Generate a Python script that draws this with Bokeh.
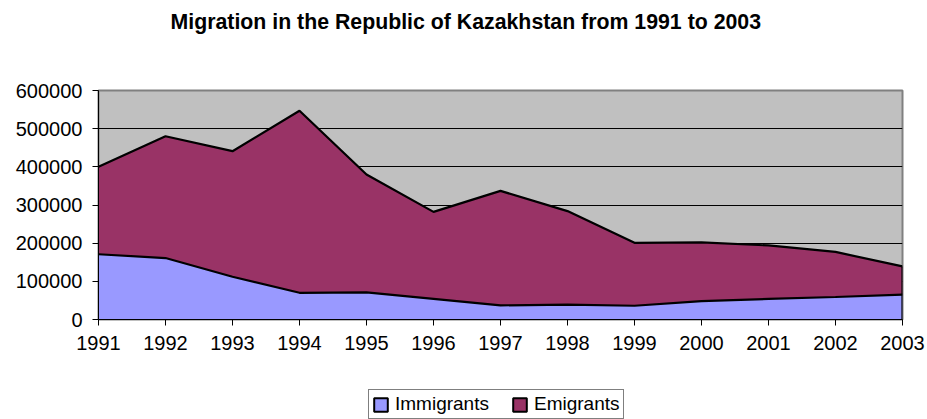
from bokeh.plotting import figure
from bokeh.layouts import column
from bokeh.models import (ColumnDataSource, Range1d, FixedTicker, Legend, LegendItem,
                          Title, BasicTickFormatter)
from bokeh.embed import file_html
from bokeh.resources import INLINE

# ---- data ----
years = [1991, 1992, 1993, 1994, 1995, 1996, 1997, 1998, 1999, 2000, 2001, 2002, 2003]
immigrants = [171000, 161000, 112000, 70000, 71000, 54000, 37000, 39000, 36000, 48000, 54000, 59000, 65000]
emigrants = [229000, 319000, 329000, 477000, 309000, 228000, 300000, 245000, 165000, 154000, 140000, 118000, 74000]
y_ticks = [0, 100000, 200000, 300000, 400000, 500000, 600000]
series_names = ["Immigrants", "Emigrants"]
title_text = "Migration in the Republic of Kazakhstan from 1991 to 2003"

IMM_COLOR = "#9999FF"
EMI_COLOR = "#993366"
FONT = "Liberation Sans"

# shared horizontal structure so the stacked figures line up exactly
FRAME_W, LEFT, RIGHT = 804, 98, 25

totals = [a + b for a, b in zip(immigrants, emigrants)]
src = ColumnDataSource(dict(year=years, Immigrants=immigrants, Emigrants=emigrants, total=totals))


def blank_fig(border_top, frame_h):
    f = figure(frame_width=FRAME_W, frame_height=frame_h, min_border_left=LEFT, min_border_right=RIGHT,
               min_border_top=border_top, min_border_bottom=0,
               x_range=Range1d(years[0], years[-1]), y_range=Range1d(y_ticks[0], y_ticks[-1]),
               x_axis_type=None, y_axis_type=None, output_backend="svg",
               toolbar_location=None, title=None)
    f.outline_line_color = None
    f.background_fill_color = "white"
    f.border_fill_color = "white"
    f.xgrid.grid_line_color = None
    f.ygrid.grid_line_color = None
    return f


# ---- title strip ----
tf = blank_fig(33, 3)
tf.add_layout(Title(text=title_text, align="left", offset=72, text_font=FONT, text_font_size="21.3px",
                    text_font_style="bold", text_color="black", standoff=0,
                    vertical_align="bottom"), "above")

# ---- main chart ----
p = figure(frame_width=FRAME_W, frame_height=229,
           min_border_left=LEFT, min_border_right=RIGHT, min_border_top=54, min_border_bottom=70,
           x_range=Range1d(years[0], years[-1]), y_range=Range1d(y_ticks[0], y_ticks[-1]),
           output_backend="svg", toolbar_location=None, title=None)

p.background_fill_color = "#C0C0C0"
p.border_fill_color = "white"
p.outline_line_color = "#808080"
p.outline_line_width = 2

p.varea_stack(stackers=series_names, x="year", color=[IMM_COLOR, EMI_COLOR], source=src)
p.line(x="year", y="Immigrants", source=src, line_color="black", line_width=2.2)
p.line(x="year", y="total", source=src, line_color="black", line_width=2.2)
p.segment(x0=years[-1:], y0=[0], x1=years[-1:], y1=totals[-1:], line_color="black", line_width=2.2)

for ax in (p.xaxis[0], p.yaxis[0]):
    ax.axis_line_color = "black"
    ax.axis_line_width = 1
    ax.major_tick_line_color = "black"
    ax.major_tick_out = 6
    ax.major_tick_in = 0
    ax.minor_tick_line_color = None
    ax.major_label_text_font = FONT
    ax.major_label_text_font_size = "20px"
    ax.major_label_text_color = "black"
p.xaxis.ticker = FixedTicker(ticks=years)
p.yaxis.ticker = FixedTicker(ticks=y_ticks)
p.yaxis.formatter = BasicTickFormatter(use_scientific=False)
p.xaxis.major_label_standoff = 10
p.yaxis.major_label_standoff = 10

p.xgrid.grid_line_color = None
p.ygrid.grid_line_color = "black"
p.ygrid.grid_line_width = 1

# ---- legend strip ----
lf = blank_fig(0, 30)
r_i = lf.quad(left=years[:1], right=years[:1], top=[0], bottom=[0],
              fill_color=IMM_COLOR, line_color="black", line_width=2)
r_e = lf.quad(left=years[:1], right=years[:1], top=[0], bottom=[0],
              fill_color=EMI_COLOR, line_color="black", line_width=2)
legend = Legend(items=[LegendItem(label=series_names[0], renderers=[r_i]),
                       LegendItem(label=series_names[1], renderers=[r_e])],
                orientation="horizontal", location=(270, 0), margin=0, padding=3,
                spacing=22, label_standoff=6, glyph_width=17, glyph_height=17,
                label_height=18, label_text_font=FONT, label_text_font_size="19px",
                label_text_color="black",
                border_line_color="black", border_line_width=1,
                background_fill_color="white", background_fill_alpha=1)
lf.add_layout(legend, "center")

layout = column(tf, p, lf, spacing=0)
open("out.html", "w").write(file_html(layout, INLINE))
